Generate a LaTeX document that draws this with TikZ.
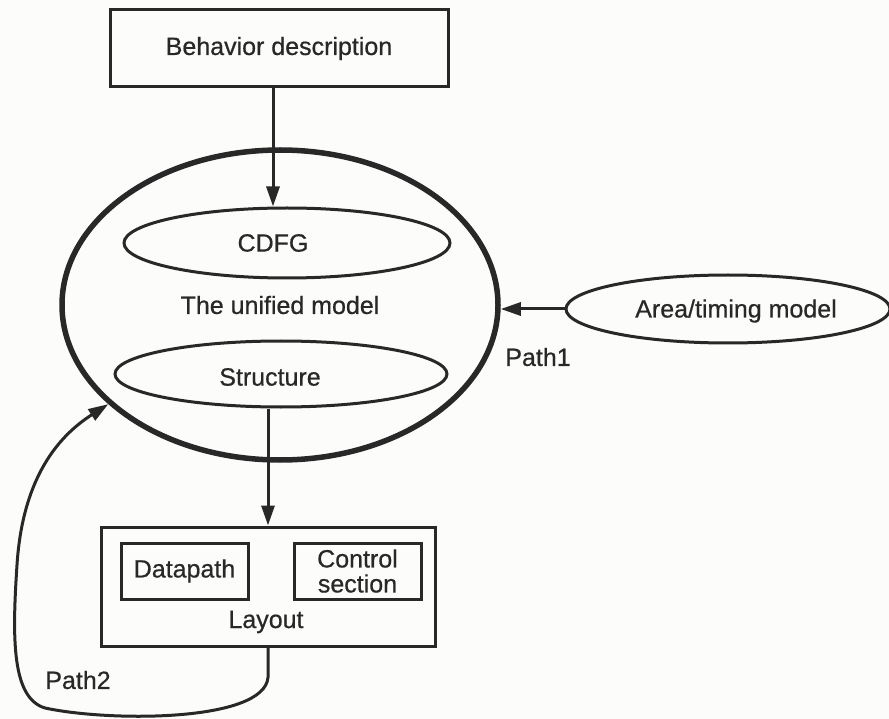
\documentclass[tikz,border=0pt]{standalone}
\usepackage{fontspec}
\setmainfont{Liberation Sans}
\newfontfamily\diagfont{Liberation Sans}[FakeBold=0.6]
\usetikzlibrary{shapes.geometric,arrows.meta}
\definecolor{ink}{HTML}{282828}
\definecolor{paper}{HTML}{FCFCFA}
\begin{document}
\begin{tikzpicture}[x=1pt,y=-1pt,
  every node/.style={font=\diagfont\fontsize{25}{26}\selectfont,text=ink,inner sep=0pt},
  box/.style={draw=ink,line width=3pt,rectangle},
  oval/.style={draw=ink,line width=3pt,ellipse},
  bigoval/.style={draw=ink,line width=5.5pt,ellipse},
  lbl/.style={anchor=center},
  arr/.style={draw=ink,line width=3pt,-{Triangle[length=20pt,width=13pt]}},
  link/.style={draw=ink,line width=3pt}]
  % page
  \fill[paper] (0,0) rectangle (889,719);
  \useasboundingbox (0,0) rectangle (889,719);

  % input description and the unified model
  \node[box,minimum width=338pt,minimum height=77pt] (beh) at (279,48.5) {Behavior description};
  \node[bigoval,minimum width=436pt,minimum height=310pt] (uni) at (280,305) {The unified model};
  \node[oval,minimum width=326pt,minimum height=70pt] (cdfg) at (287,243) {};
  \node[lbl] (cdfgtxt) at (273,243) {CDFG};
  \node[oval,minimum width=332pt,minimum height=66pt] (st) at (281,374) {};
  \node[lbl] (sttxt) at (270,377) {Structure};

  % area/timing estimation
  \node[oval,minimum width=324pt,minimum height=68pt] (area) at (728,309) {};
  \node[lbl] (areatxt) at (736,311) {Area/timing model};
  \node[lbl] (p1) at (538,357) {Path1};

  % layout with its two parts
  \node[box,minimum width=334pt,minimum height=119pt] (lay) at (268,586.5) {};
  \node[box,minimum width=127pt,minimum height=56pt] (dp) at (184.5,571) {Datapath};
  \node[box,minimum width=127pt,minimum height=56pt,align=center] (cs) at (357.5,571) {Control\\[-1pt]section};
  \node[lbl] (laytxt) at (266,622) {Layout};
  \node[lbl] (p2) at (78,680) {Path2};

  % connectors
  \draw[arr] ([xshift=-6pt]beh.south) -- ([xshift=-6pt]beh.south |- cdfg.north);
  \draw[arr] (lay.north |- st.south) -- (lay.north);
  \draw[arr] (area.west) -- (area.west -| uni.east);
  \draw[arr] (lay.south) -- ++(0,30)
    .. controls (264,722) and (110,722) .. (45,708)
    .. controls (12,698) and (12,640) .. (17,565)
    .. controls (23,470) and (65,432) .. (uni.210);
\end{tikzpicture}
\end{document}
